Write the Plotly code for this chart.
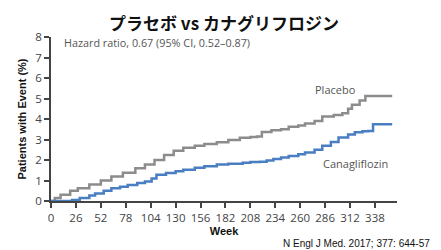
import plotly.graph_objects as go

placebo_weeks = [0, 4, 10, 20, 28, 40, 52, 63, 75, 88, 98, 108, 118, 128, 138, 150, 160, 173, 185, 197,
                 208, 215, 220, 230, 240, 248, 258, 265, 275, 283, 295, 304, 310, 314, 322, 328, 356]
placebo_vals = [0, 0.15, 0.3, 0.5, 0.62, 0.8, 1.0, 1.2, 1.38, 1.6, 1.78, 2.0, 2.25, 2.45, 2.6, 2.7, 2.78, 2.87, 2.98, 3.08,
                3.12, 3.15, 3.37, 3.45, 3.5, 3.62, 3.68, 3.78, 3.9, 4.12, 4.2, 4.28, 4.5, 4.7, 4.9, 5.12, 5.12]

cana_weeks = [0, 15, 22, 30, 40, 46, 55, 63, 72, 80, 90, 98, 105, 110, 120, 130, 138, 150, 160, 173,
              185, 200, 208, 218, 225, 232, 240, 248, 258, 265, 275, 283, 292, 300, 310, 317, 325, 331, 336, 356]
cana_vals = [0, 0, 0.05, 0.15, 0.27, 0.37, 0.5, 0.62, 0.7, 0.78, 0.88, 0.95, 1.1, 1.28, 1.37, 1.45, 1.53, 1.62, 1.7, 1.78,
             1.82, 1.86, 1.9, 1.92, 1.98, 2.05, 2.12, 2.2, 2.28, 2.37, 2.5, 2.7, 2.88, 3.1, 3.25, 3.35, 3.4, 3.42, 3.75, 3.75]

x_ticks = [0, 26, 52, 78, 104, 130, 156, 182, 208, 234, 260, 286, 312, 338]
y_ticks = [0, 1, 2, 3, 4, 5, 6, 7, 8]

tick_font = dict(family="Open Sans, sans-serif", size=11.5, color="#444444")

fig = go.Figure()
fig.add_trace(go.Scatter(x=placebo_weeks, y=placebo_vals, mode="lines", line_shape="hv",
                         line=dict(color="#8c8c8c", width=2.5), name="Placebo", showlegend=False))
fig.add_trace(go.Scatter(x=cana_weeks, y=cana_vals, mode="lines", line_shape="hv",
                         line=dict(color="#4a7ec2", width=2.5), name="Canagliflozin", showlegend=False))

fig.add_annotation(x=297, y=5.44, text="Placebo", showarrow=False,
                   font=dict(family="Open Sans, sans-serif", size=11, color="#555555"))
fig.add_annotation(x=318, y=1.83, text="Canagliflozin", showarrow=False,
                   font=dict(family="Open Sans, sans-serif", size=11, color="#555555"))
fig.add_annotation(x=11, y=7.73, text="Hazard ratio, 0.67 (95% CI, 0.52\u20130.87)", showarrow=False,
                   xanchor="left", font=dict(family="Open Sans, sans-serif", size=10.8, color="#555555"))

fig.add_annotation(xref="paper", yref="paper", x=0.5, y=1, yshift=15, yanchor="middle",
                   text="<b>プラセボ vs カナグリフロジン</b>", showarrow=False,
                   font=dict(family="Noto Sans CJK JP", size=17, color="#111111"))
fig.add_annotation(xref="paper", yref="paper", x=1, xshift=35, y=0, yshift=-42, yanchor="middle",
                   xanchor="right", text="N Engl J Med. 2017; 377: 644-57", showarrow=False,
                   font=dict(family="Liberation Sans, Arial", size=10, color="#111111"))

fig.update_layout(
    width=441, height=250,
    margin=dict(l=51, r=44, t=37, b=49),
    paper_bgcolor="white", plot_bgcolor="white",
    xaxis=dict(range=[0, 361], tickvals=x_ticks, ticks="outside", ticklen=5, tickwidth=1.5,
               tickcolor="#444444", showline=True, linecolor="#444444", linewidth=1.5,
               showgrid=False, zeroline=False, tickfont=tick_font,
               title=dict(text="<b>Week</b>", standoff=4,
                          font=dict(family="Liberation Sans, Arial", size=11, color="#111111"))),
    yaxis=dict(range=[0, 8], tickvals=y_ticks, ticks="outside", ticklen=5, tickwidth=1.5,
               tickcolor="#444444", showline=True, linecolor="#444444", linewidth=1.5,
               showgrid=False, zeroline=False, tickfont=tick_font,
               title=dict(text="<b>Patients with Event (%)</b>", standoff=7,
                          font=dict(family="Liberation Sans, Arial", size=11, color="#111111"))),
)

fig.write_html("out.html", config={"displayModeBar": False},
               post_script="document.body.style.margin='0px';")
